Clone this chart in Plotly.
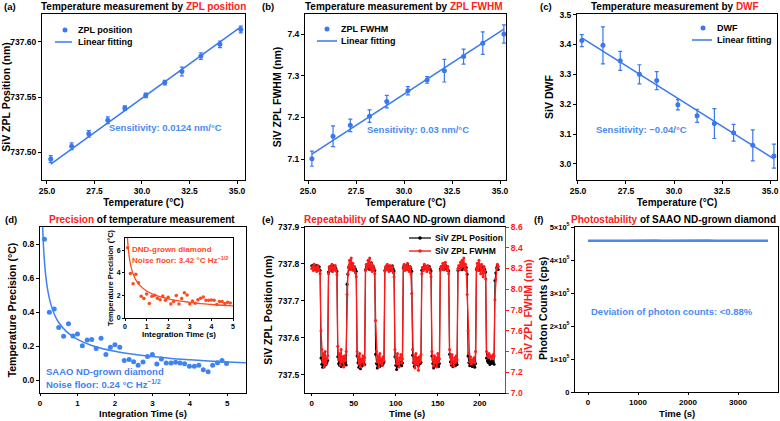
import plotly.graph_objects as go

# ---------------- data ----------------
temp_c = [25.2, 26.3, 27.2, 28.2, 29.1, 30.2, 31.2, 32.1, 33.1, 34.1, 35.2]
fit_temp = [25.2, 35.2]

zpl_pos = [737.494, 737.5055, 737.5167, 737.529, 737.540, 737.5515, 737.563, 737.573, 737.587, 737.5976, 737.611]
zpl_pos_err = [0.003, 0.003, 0.003, 0.003, 0.002, 0.002, 0.002, 0.004, 0.003, 0.003, 0.003]
zpl_pos_fit = [737.4894, 737.6134]

zpl_fwhm = [7.101, 7.155, 7.181, 7.203, 7.238, 7.264, 7.290, 7.312, 7.346, 7.378, 7.400]
zpl_fwhm_err = [0.018, 0.025, 0.015, 0.015, 0.015, 0.010, 0.008, 0.027, 0.018, 0.027, 0.022]
zpl_fwhm_fit = [7.112, 7.412]

dwf = [3.413, 3.397, 3.345, 3.300, 3.279, 3.198, 3.161, 3.135, 3.104, 3.062, 3.026]
dwf_err = [0.020, 0.062, 0.032, 0.032, 0.030, 0.017, 0.022, 0.050, 0.028, 0.052, 0.040]
dwf_fit = [3.422, 3.017]

int_time = [0.12, 0.25, 0.38, 0.5, 0.63, 0.76, 0.88, 1.0, 1.13, 1.26, 1.38, 1.5, 1.63, 1.76, 1.88,
            2.0, 2.13, 2.25, 2.38, 2.5, 2.62, 2.75, 2.87, 3.0, 3.12, 3.24, 3.37, 3.5, 3.62, 3.74,
            3.86, 3.99, 4.12, 4.24, 4.36, 4.49, 4.61, 4.74, 4.86, 4.98]
saao_prec = [0.828, 0.399, 0.418, 0.309, 0.258, 0.332, 0.26, 0.271, 0.202, 0.237, 0.239, 0.187, 0.246,
             0.151, 0.193, 0.208, 0.193, 0.116, 0.122, 0.109, 0.088, 0.107, 0.139, 0.151, 0.095, 0.124,
             0.101, 0.101, 0.105, 0.101, 0.097, 0.082, 0.082, 0.088, 0.061, 0.05, 0.088, 0.103, 0.116, 0.099]
saao_fit_t = [0.07, 0.1, 0.15, 0.2, 0.3, 0.4, 0.5, 0.7, 1.0, 1.4, 2.0, 2.5, 3.0, 3.5, 4.0, 4.5, 5.0, 5.5]
saao_fit = [0.907, 0.759, 0.620, 0.537, 0.438, 0.379, 0.339, 0.287, 0.240, 0.203, 0.170, 0.152, 0.139,
            0.128, 0.120, 0.113, 0.107, 0.102]

dnd_time = [0.125, 0.25, 0.375, 0.5, 0.625, 0.75, 0.875, 1.0, 1.125, 1.25, 1.375, 1.5, 1.625, 1.75,
            1.875, 2.0, 2.125, 2.25, 2.375, 2.5, 2.625, 2.75, 2.875, 3.0, 3.125, 3.25, 3.375, 3.5,
            3.625, 3.75, 3.875, 4.0, 4.125, 4.25, 4.375, 4.5, 4.625, 4.75, 4.875]
dnd_prec = [6.24, 3.95, 3.03, 3.89, 3.12, 1.93, 1.72, 2.14, 1.28, 1.93, 2.02, 1.75, 1.63, 1.96, 1.57,
            1.84, 1.25, 1.46, 1.99, 1.25, 1.72, 2.23, 2.05, 1.25, 1.51, 1.31, 1.63, 1.75, 1.87, 1.57,
            1.57, 1.60, 1.57, 1.19, 1.46, 1.46, 1.28, 1.40, 1.34]
dnd_fit_t = [0.114, 0.15, 0.2, 0.3, 0.4, 0.5, 0.7, 1.0, 1.5, 2.0, 2.5, 3.0, 3.5, 4.0, 4.5, 5.0]
dnd_fit = [7.1, 6.2, 5.37, 4.38, 3.79, 3.39, 2.87, 2.40, 1.96, 1.70, 1.52, 1.39, 1.28, 1.20, 1.13, 1.07]

rep_pos = [
    737.795, 737.790, 737.797, 737.788, 737.793, 737.785, 737.796, 737.790, 737.784, 737.792, 737.783,
    737.545, 737.528, 737.520, 737.535, 737.524, 737.540, 737.527, 737.532, 737.538,
    737.778, 737.790, 737.786, 737.793, 737.781, 737.789, 737.795, 737.784, 737.790, 737.786, 737.780,
    737.548, 737.530, 737.525, 737.536, 737.522, 737.531, 737.527, 737.540, 737.529, 737.534, 737.526,
    737.745, 737.772, 737.790, 737.796, 737.785, 737.792, 737.788, 737.794, 737.783, 737.790, 737.786, 737.780,
    737.550, 737.532, 737.520, 737.528, 737.516, 737.535, 737.523, 737.530, 737.538, 737.527,
    737.785, 737.792, 737.798, 737.788, 737.795, 737.784, 737.791, 737.803, 737.787, 737.793, 737.789, 737.782,
    737.555, 737.530, 737.518, 737.527, 737.535, 737.522, 737.531, 737.540, 737.525, 737.529, 737.534,
    737.782, 737.789, 737.794, 737.786, 737.792, 737.785, 737.790, 737.783, 737.788, 737.795, 737.787, 737.781,
    737.548, 737.525, 737.514, 737.530, 737.522, 737.536, 737.527, 737.533, 737.524, 737.531,
    737.790, 737.796, 737.788, 737.793, 737.785, 737.797, 737.789, 737.784, 737.792, 737.787, 737.780,
    737.552, 737.533, 737.522, 737.538, 737.527, 737.545, 737.530, 737.524, 737.536, 737.529, 737.533,
    737.783, 737.790, 737.786, 737.794, 737.789, 737.792, 737.785, 737.791, 737.788, 737.793, 737.786, 737.781,
    737.550, 737.530, 737.518, 737.532, 737.523, 737.537, 737.527, 737.540, 737.522, 737.530,
    737.786, 737.792, 737.788, 737.795, 737.784, 737.790, 737.797, 737.787, 737.793, 737.785, 737.781,
    737.555, 737.535, 737.526, 737.532, 737.521, 737.529, 737.537, 737.524, 737.531, 737.527,
    737.782, 737.789, 737.793, 737.786, 737.791, 737.784, 737.795, 737.788, 737.792, 737.785, 737.790, 737.772,
    737.550, 737.532, 737.524, 737.536, 737.528, 737.522, 737.533, 737.527, 737.520, 737.530,
    737.785, 737.791, 737.787, 737.794, 737.783, 737.790, 737.786, 737.792, 737.780, 737.788, 737.784, 737.778,
    737.545, 737.537, 737.533, 737.540, 737.527, 737.535, 737.530, 737.538, 737.532, 737.528,
    737.755, 737.775, 737.790, 737.796, 737.785,
]
rep_fwhm = [
    8.20, 8.22, 8.18, 8.24, 8.19, 8.21, 8.17, 8.23, 8.20, 8.18, 8.15,
    7.60, 7.42, 7.30, 7.38, 7.25, 7.40, 7.28, 7.33, 7.36,
    8.15, 8.22, 8.18, 8.20, 8.24, 8.17, 8.21, 8.19, 8.23, 8.18, 8.14,
    7.45, 7.32, 7.38, 7.27, 7.42, 7.30, 7.35, 7.25, 7.36, 7.31, 7.40,
    7.95, 8.15, 8.22, 8.28, 8.19, 8.30, 8.21, 8.25, 8.18, 8.22, 8.16, 8.12,
    7.40, 7.35, 7.28, 7.38, 7.25, 7.33, 7.30, 7.36, 7.27, 7.34,
    8.18, 8.24, 8.20, 8.28, 8.22, 8.30, 8.19, 8.25, 8.17, 8.23, 8.20, 8.15,
    7.70, 7.40, 7.30, 7.36, 7.25, 7.38, 7.29, 7.33, 7.27, 7.35, 7.31,
    8.18, 8.22, 8.19, 8.24, 8.20, 8.17, 8.23, 8.21, 8.18, 8.22, 8.16, 8.12,
    7.42, 7.35, 7.28, 7.38, 7.30, 7.25, 7.34, 7.37, 7.29, 7.33,
    8.20, 8.24, 8.18, 8.22, 8.19, 8.25, 8.21, 8.17, 8.22, 8.15, 7.96,
    7.42, 7.30, 7.36, 7.24, 7.38, 7.28, 7.33, 7.22, 7.35, 7.30, 7.37,
    8.15, 8.21, 8.18, 8.24, 8.20, 8.22, 8.17, 8.23, 8.19, 8.21, 8.16, 8.12,
    7.40, 7.32, 7.26, 7.36, 7.29, 7.34, 7.25, 7.38, 7.30, 7.33,
    8.18, 8.22, 8.20, 8.25, 8.19, 8.23, 8.26, 8.21, 8.18, 8.22, 8.15,
    7.42, 7.35, 7.28, 7.37, 7.30, 7.26, 7.34, 7.29, 7.36, 7.32,
    8.20, 8.23, 8.19, 8.26, 8.21, 8.28, 8.22, 8.30, 8.19, 8.24, 8.18, 7.95,
    7.60, 7.38, 7.30, 7.35, 7.28, 7.32, 7.30, 7.34, 7.29, 7.40,
    8.20, 8.25, 8.18, 8.28, 8.22, 8.15, 8.24, 8.19, 8.12, 8.22, 8.17, 8.10,
    7.40, 7.36, 7.35, 7.38, 7.34, 7.36, 7.35, 7.33, 7.37, 7.36,
    7.90, 8.10, 8.20, 8.24, 8.22,
]
rep_time = list(range(len(rep_pos)))

photon_time = [0, 150, 300, 450, 600, 750, 900, 1050, 1200, 1350, 1500, 1650, 1800, 1950, 2100,
               2250, 2400, 2550, 2700, 2850, 3000, 3150, 3300, 3450, 3600]
photon_counts = [4.585e5, 4.580e5, 4.588e5, 4.592e5, 4.583e5, 4.586e5, 4.590e5, 4.584e5, 4.587e5,
                 4.591e5, 4.582e5, 4.586e5, 4.589e5, 4.583e5, 4.588e5, 4.585e5, 4.590e5, 4.584e5,
                 4.587e5, 4.583e5, 4.589e5, 4.586e5, 4.582e5, 4.587e5, 4.584e5]
photon_ticks = [0, 1e5, 2e5, 3e5, 4e5, 5e5]
photon_ticktext = ["0", "1×10<sup>5</sup>", "2×10<sup>5</sup>", "3×10<sup>5</sup>", "4×10<sup>5</sup>", "5×10<sup>5</sup>"]

# ---------------- style ----------------
W, H = 780, 421
FONT = "Liberation Sans"
BLUE = "#3a78ee"
BLUE_TXT = "#4a8cf2"
SAAO = "#3f82f2"
HILITE = "#ff2020"
DND = "#ff4a1e"
RED = "#ff1a1a"


def dx(a, b):
    return [a / W, b / W]


def dy(top, bottom):
    return [1 - bottom / H, 1 - top / H]


def f(size, color="black"):
    return dict(family=FONT, size=size, color=color, weight="bold")


def axis(domain, rng, anchor, title="", tsize=10, ticksize=8.5, mirror=True, standoff=3, **kw):
    d = dict(domain=domain, range=rng, anchor=anchor, showline=True, linecolor="black", linewidth=1,
             mirror=mirror, ticks="outside", ticklen=3, tickwidth=1, tickcolor="black",
             showgrid=False, zeroline=False, automargin=False, tickfont=f(ticksize),
             title=dict(text=title, font=f(tsize), standoff=standoff))
    d.update(kw)
    return d


fig = go.Figure()

# (a)
fig.add_trace(go.Scatter(x=temp_c, y=zpl_pos, mode="markers", name="ZPL position",
                         marker=dict(color=BLUE, size=5),
                         error_y=dict(type="data", array=zpl_pos_err, color=BLUE, thickness=1.2, width=2),
                         xaxis="x", yaxis="y"))
fig.add_trace(go.Scatter(x=fit_temp, y=zpl_pos_fit, mode="lines", name="Linear fitting",
                         line=dict(color=BLUE, width=1.5), xaxis="x", yaxis="y"))
# (b)
fig.add_trace(go.Scatter(x=temp_c, y=zpl_fwhm, mode="markers", name="ZPL FWHM",
                         marker=dict(color=BLUE, size=5),
                         error_y=dict(type="data", array=zpl_fwhm_err, color=BLUE, thickness=1.2, width=2),
                         xaxis="x2", yaxis="y2"))
fig.add_trace(go.Scatter(x=fit_temp, y=zpl_fwhm_fit, mode="lines", name="Linear fitting",
                         line=dict(color=BLUE, width=1.5), xaxis="x2", yaxis="y2"))
# (c)
fig.add_trace(go.Scatter(x=temp_c, y=dwf, mode="markers", name="DWF",
                         marker=dict(color=BLUE, size=5),
                         error_y=dict(type="data", array=dwf_err, color=BLUE, thickness=1.2, width=2),
                         xaxis="x3", yaxis="y3"))
fig.add_trace(go.Scatter(x=fit_temp, y=dwf_fit, mode="lines", name="Linear fitting",
                         line=dict(color=BLUE, width=1.5), xaxis="x3", yaxis="y3"))
# (d)
fig.add_trace(go.Scatter(x=saao_fit_t, y=saao_fit, mode="lines", line=dict(color=SAAO, width=1.5),
                         line_shape="spline", xaxis="x4", yaxis="y4"))
fig.add_trace(go.Scatter(x=int_time, y=saao_prec, mode="markers", marker=dict(color=SAAO, size=5),
                         xaxis="x4", yaxis="y4"))
# inset
fig.add_trace(go.Scatter(x=dnd_fit_t, y=dnd_fit, mode="lines", line=dict(color=DND, width=1.3),
                         line_shape="spline", xaxis="x5", yaxis="y5"))
fig.add_trace(go.Scatter(x=dnd_time, y=dnd_prec, mode="markers", marker=dict(color=DND, size=3.5),
                         xaxis="x5", yaxis="y5"))
# (e)
fig.add_trace(go.Scatter(x=rep_time, y=rep_pos, mode="lines+markers", name="SiV ZPL Position",
                         line=dict(color="black", width=1), marker=dict(color="black", size=3),
                         xaxis="x6", yaxis="y6"))
fig.add_trace(go.Scatter(x=rep_time, y=rep_fwhm, mode="lines+markers", name="SiV ZPL FWHM",
                         line=dict(color=RED, width=1.4), marker=dict(color=RED, size=3),
                         xaxis="x6", yaxis="y7"))
# (f)
fig.add_trace(go.Scatter(x=photon_time, y=photon_counts, mode="lines", line=dict(color="#4a88ee", width=2.5),
                         xaxis="x8", yaxis="y8"))

# ---------------- layout ----------------
temp_ticks = dict(tickmode="array", tickvals=[25, 27.5, 30, 32.5, 35], ticktext=["25.0", "27.5", "30.0", "32.5", "35.0"])
bottom_x = dict(ticklen=2, ticksize=8)
lay = dict(
    width=W, height=H, margin=dict(l=0, r=0, t=0, b=0), paper_bgcolor="white", plot_bgcolor="white",
    font=f(9), showlegend=False,
    xaxis=axis(dx(42, 245), [24.74, 35.42], "y", "Temperature (°C)", **temp_ticks),
    yaxis=axis(dy(14, 180), [737.475, 737.625], "x", "SiV ZPL Position (nm)", tsize=10.5,
               tickmode="array", tickvals=[737.50, 737.55, 737.60], ticktext=["737.50", "737.55", "737.60"]),
    xaxis2=axis(dx(305, 506), [24.84, 35.31], "y2", "Temperature (°C)", **temp_ticks),
    yaxis2=axis(dy(14, 180), [7.05, 7.448], "x2", "SiV ZPL FWHM (nm)", tsize=10.5, tickformat=".1f", dtick=0.1),
    xaxis3=axis(dx(577, 777), [24.95, 35.36], "y3", "Temperature (°C)", **temp_ticks),
    yaxis3=axis(dy(14, 180), [2.946, 3.502], "x3", "SiV DWF", tsize=10.5, tickformat=".1f", dtick=0.1),
    xaxis4=axis(dx(40, 246), [0, 5.5], "y4", "", dtick=1, **bottom_x),
    yaxis4=axis(dy(227, 393), [-0.075, 0.9], "x4", "Temperature Precision (°C)", tsize=10.5,
                tickformat=".1f", dtick=0.2),
    xaxis5=axis(dx(125, 233), [0, 5], "y5", "Integration Time (s)", tsize=8, ticksize=7, dtick=1, ticklen=2,
                standoff=1),
    yaxis5=axis(dy(238, 318), [0, 7.1], "x5", "Temperature Precision (°C)", tsize=7.5, ticksize=7,
                dtick=2, ticklen=2, standoff=2),
    xaxis6=axis(dx(305, 505), [-8, 230], "y6", "", dtick=50, **bottom_x),
    yaxis6=axis(dy(227, 393), [737.45, 737.9], "x6", "SiV ZPL Position (nm)", tsize=10.5, mirror=False,
                tickformat=".1f", dtick=0.1),
    yaxis7=dict(domain=dy(227, 393), range=[7.0, 8.6], anchor="x6", overlaying="y6", side="right",
                showline=True, linecolor=RED, linewidth=1.2, ticks="outside", ticklen=3,
                tickcolor=RED, showgrid=False, zeroline=False, automargin=False,
                tickformat=".1f", dtick=0.2, tickfont=f(8.5, RED)),
    xaxis8=axis(dx(575, 778), [-260, 3800], "y8", "", dtick=1000, **bottom_x),
    yaxis8=axis(dy(227, 392), [0, 5e5], "x8", "", tickmode="array",
                tickvals=photon_ticks, ticktext=photon_ticktext, ticksize=7.5),
)
fig.update_layout(**lay)


def note(x, y, text, size=10, color="black", xanchor="center", angle=0, yanchor="middle"):
    fig.add_annotation(x=x / W, y=1 - y / H, xref="paper", yref="paper", text=text, showarrow=False,
                       font=f(size, color), xanchor=xanchor, yanchor=yanchor, textangle=angle)


def hl(s):
    return f"<span style='color:{HILITE}'>{s}</span>"


def leg_line(x0, x1, y, color, width=1.5):
    fig.add_shape(type="line", xref="paper", yref="paper", x0=x0 / W, x1=x1 / W, y0=1 - y / H, y1=1 - y / H,
                  line=dict(color=color, width=width))


def leg_dot(x, y, color, r=2.5):
    fig.add_shape(type="circle", xref="paper", yref="paper", x0=(x - r) / W, x1=(x + r) / W,
                  y0=1 - (y + r) / H, y1=1 - (y - r) / H, fillcolor=color, line=dict(color=color, width=0))


# manual legends (compact line spacing like the reference)
leg_dot(65, 30, BLUE); note(76, 30, "ZPL position", 9, xanchor="left")
leg_line(55, 72, 42, BLUE); note(76, 42, "Linear fitting", 9, xanchor="left")
leg_dot(327, 29, BLUE); note(339, 29, "ZPL FWHM", 9, xanchor="left")
leg_line(317, 337, 41, BLUE); note(339, 41, "Linear fitting", 9, xanchor="left")
leg_dot(703, 28, BLUE); note(715, 28, "DWF", 9, xanchor="left")
leg_line(692, 712, 40, BLUE); note(715, 40, "Linear fitting", 9, xanchor="left")
leg_line(409, 431, 238, "black", 1.2); leg_dot(420, 238, "black", 1.8)
note(433, 238, "SiV ZPL Position", 8.5, xanchor="left")
leg_line(409, 431, 251, RED, 1.4); leg_dot(420, 251, RED, 1.8)
note(433, 251, "SiV ZPL FWHM", 8.5, xanchor="left")

# bottom-row axis titles (placed explicitly: the figure has no bottom margin)
note(143, 421, "Integration Time (s)", 9.5, yanchor="bottom")
note(407, 421, "Time (s)", 9.5, yanchor="bottom")
note(677, 421, "Time (s)", 9.5, yanchor="bottom")
note(528, 310, "SiV ZPL FWHM (nm)", 10.5, RED, angle=-90)
note(543, 309, "Photon Counts (cps)", 10.5, angle=-90)

# panel labels
note(2, 6, "(a)", 9.5, xanchor="left")
note(260, 6, "(b)", 9.5, xanchor="left")
note(538, 6, "(c)", 9.5, xanchor="left")
note(3, 220, "(d)", 9.5, xanchor="left")
note(260, 220, "(e)", 9.5, xanchor="left")
note(532, 220, "(f)", 9.5, xanchor="left")
# titles
note(143, 6, "Temperature measurement by " + hl("ZPL position"))
note(403, 6, "Temperature measurement by " + hl("ZPL FWHM"))
note(675, 6, "Temperature measurement by " + hl("DWF"))
note(142, 220, hl("Precision") + " of temperature measurement")
note(404, 220, hl("Repeatability") + " of SAAO ND-grown diamond")
note(673, 220, hl("Photostability") + " of SAAO ND-grown diamond")
# in-plot texts
note(165, 127, "Sensitivity: 0.0124 nm/°C", 9.5, BLUE_TXT)
note(418, 129, "Sensitivity: 0.03 nm/°C", 9.5, BLUE_TXT)
note(641, 129, "Sensitivity: −0.04/°C", 9.5, BLUE_TXT)
note(672, 311, "Deviation of photon counts: <0.88%", 9.5, BLUE_TXT)
note(44, 371, "SAAO ND-grown diamond", 9.5, SAAO, xanchor="left")
note(44, 384, "Noise floor: 0.24 °C Hz<sup>−1/2</sup>", 9.5, SAAO, xanchor="left")
note(130, 249, "DND-grown diamond", 8, DND, xanchor="left")
note(130, 260, "Noise floor: 3.42 °C Hz<sup>−1/2</sup>", 8, DND, xanchor="left")

fig.write_html("out.html")
